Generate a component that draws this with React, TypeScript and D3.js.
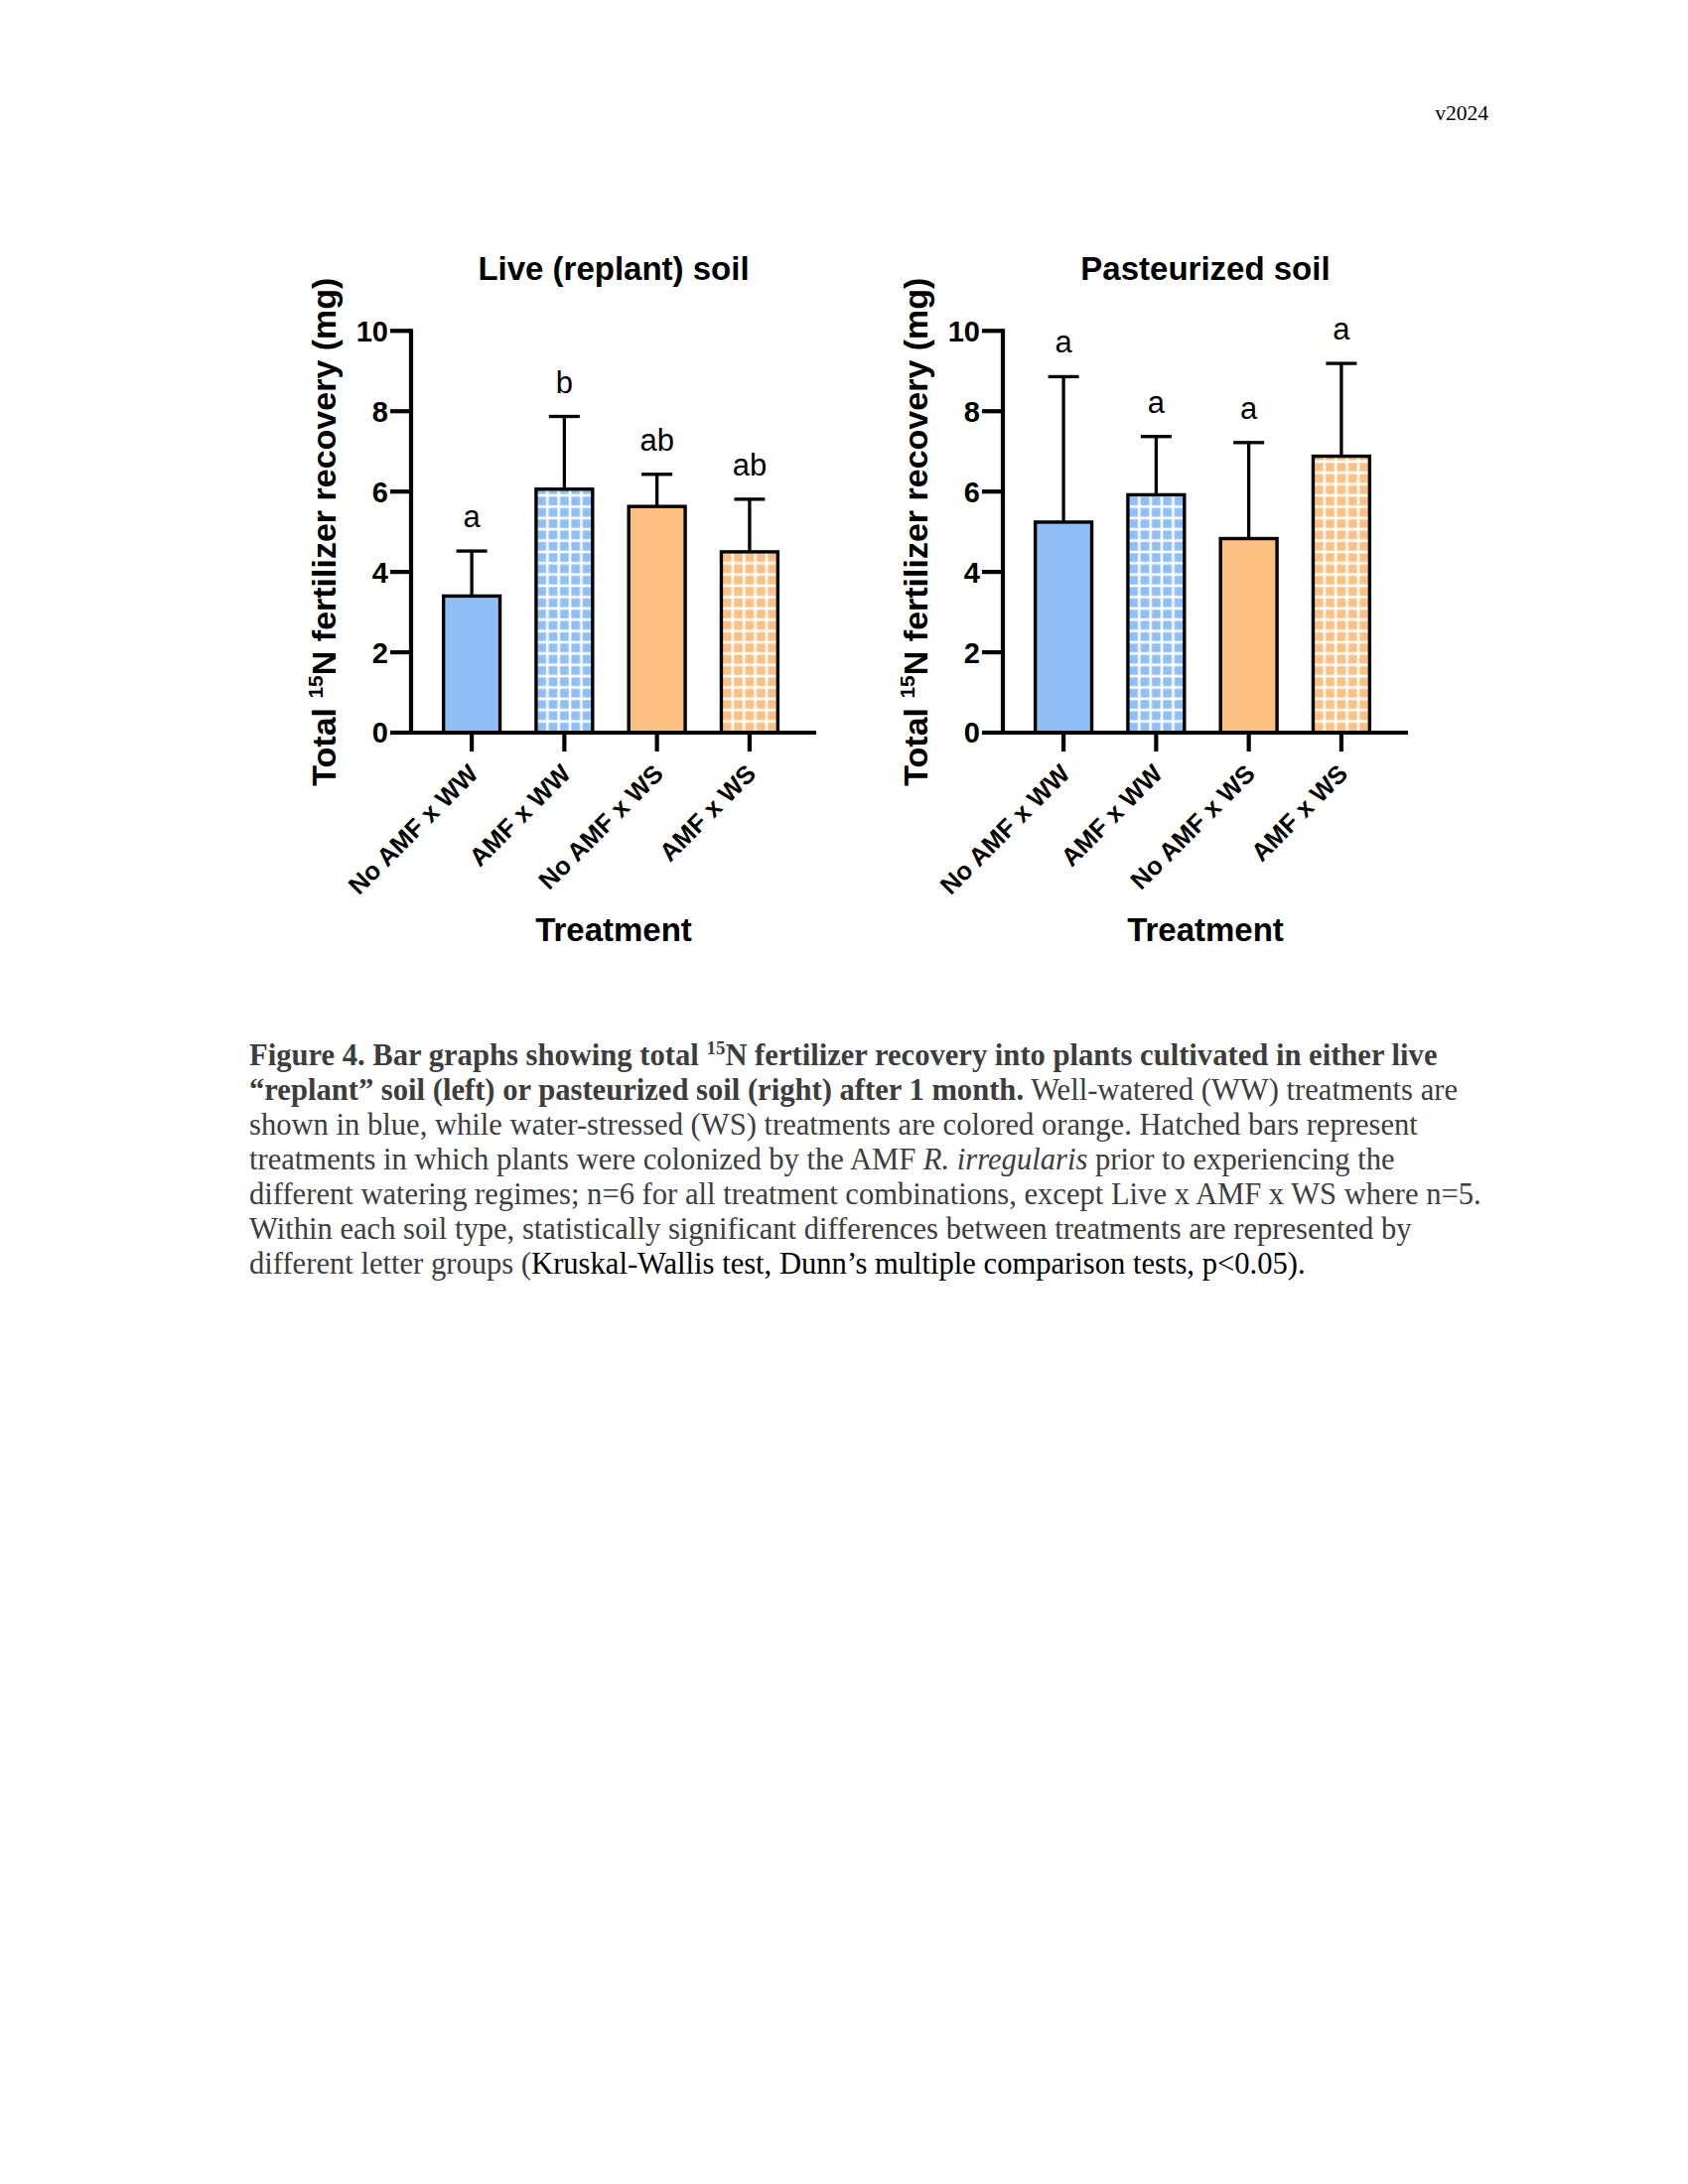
import React from "react";
import * as d3 from "d3";

// ---------- data ----------
const categories = ["No AMF x WW", "AMF x WW", "No AMF x WS", "AMF x WS"];
const hatched = [false, true, false, true];
const watering = ["WW", "WW", "WS", "WS"];
const liveMeans = [3.4, 6.06, 5.63, 4.5];
const liveErrors = [1.12, 1.81, 0.8, 1.31];
const liveLetters = ["a", "b", "ab", "ab"];
const pastMeans = [5.24, 5.92, 4.83, 6.88];
const pastErrors = [3.62, 1.45, 2.39, 2.31];
const pastLetters = ["a", "a", "a", "a"];
const yTicks = [0, 2, 4, 6, 8, 10];
const panelTitles = ["Live (replant) soil", "Pasteurized soil"];
const xAxisTitle = "Treatment";
const versionLabel = "v2024";

type Seg = { t: string; b?: boolean; i?: boolean; k?: boolean; sup?: boolean };
const captionLines: Seg[][] = [
  [
    { t: "Figure 4. Bar graphs showing total ", b: true },
    { t: "15", b: true, sup: true },
    { t: "N fertilizer recovery into plants cultivated in either live", b: true },
  ],
  [
    { t: "\u201Creplant\u201D soil (left) or pasteurized soil (right) after 1 month.", b: true },
    { t: " Well-watered (WW) treatments are" },
  ],
  [{ t: "shown in blue, while water-stressed (WS) treatments are colored orange. Hatched bars represent" }],
  [
    { t: "treatments in which plants were colonized by the AMF " },
    { t: "R. irregularis", i: true },
    { t: " prior to experiencing the" },
  ],
  [{ t: "different watering regimes; n=6 for all treatment combinations, except Live x AMF x WS where n=5." }],
  [{ t: "Within each soil type, statistically significant differences between treatments are represented by" }],
  [
    { t: "different letter groups (" },
    { t: "Kruskal-Wallis test, Dunn\u2019s multiple comparison tests, p<0.05).", k: true },
  ],
];

// ---------- layout ----------
const W = 1700;
const H = 2200;
const SANS = "'Liberation Sans', Arial, Helvetica, sans-serif";
const SERIF = "'Liberation Serif', 'Times New Roman', Times, serif";
const colorFor: Record<string, string> = { WW: "#90BEF7", WS: "#FCC083" };
const PANEL_X = [414, 1010];
const Y0 = 738;
const Y10 = 333.3;
const AXIS_LEN = 408;
const BAND_LEN = 402;

function Panel({ idx, means, errors, letters }: { idx: number; means: number[]; errors: number[]; letters: string[] }) {
  const x0 = PANEL_X[idx];
  const y = d3.scaleLinear().domain([0, 10]).range([Y0, Y10]);
  const x = d3.scaleBand<string>().domain(categories).range([x0, x0 + BAND_LEN]).paddingInner(0.39).paddingOuter(0.35);
  const bw = x.bandwidth();
  const cell = bw / 5;
  const lw = 2.6;
  const cx = (c: string) => (x(c) as number) + bw / 2;
  const midX = x0 + AXIS_LEN / 2;
  return (
    <g>
      <defs>
        {categories.map((c, i) =>
          hatched[i] ? (
            <pattern
              key={c}
              id={`hatch-${idx}-${i}`}
              patternUnits="userSpaceOnUse"
              x={x(c) as number}
              y={Y0}
              width={cell}
              height={cell}
            >
              <rect x={0} y={0} width={cell} height={cell} fill="#ffffff" />
              <rect x={lw / 2} y={lw / 2} width={cell - lw} height={cell - lw} fill={colorFor[watering[i]]} />
            </pattern>
          ) : null
        )}
      </defs>
      {/* title */}
      <text x={midX} y={282} textAnchor="middle" fontFamily={SANS} fontWeight="bold" fontSize={33}>
        {panelTitles[idx]}
      </text>
      {/* bars */}
      {categories.map((c, i) => (
        <rect
          key={c}
          x={x(c) as number}
          y={y(means[i])}
          width={bw}
          height={y(0) - y(means[i])}
          fill={hatched[i] ? `url(#hatch-${idx}-${i})` : colorFor[watering[i]]}
          stroke="#000"
          strokeWidth={3.4}
        />
      ))}
      {/* error bars */}
      {categories.map((c, i) => (
        <g key={c} stroke="#000" strokeWidth={3.3}>
          <line x1={cx(c)} x2={cx(c)} y1={y(means[i])} y2={y(means[i] + errors[i])} />
          <line x1={cx(c) - 15.5} x2={cx(c) + 15.5} y1={y(means[i] + errors[i])} y2={y(means[i] + errors[i])} />
        </g>
      ))}
      {/* letters */}
      {categories.map((c, i) => (
        <text key={c} x={cx(c)} y={y(means[i] + errors[i]) - 24} textAnchor="middle" fontFamily={SANS} fontSize={31}>
          {letters[i]}
        </text>
      ))}
      {/* y axis */}
      <line x1={x0} x2={x0} y1={Y0 + 2} y2={y(10) - 2} stroke="#000" strokeWidth={4.2} />
      {yTicks.map((t) => (
        <g key={t}>
          <line x1={x0 - 21} x2={x0} y1={y(t)} y2={y(t)} stroke="#000" strokeWidth={4.2} />
          <text x={x0 - 23} y={y(t)} dy="0.36em" textAnchor="end" fontFamily={SANS} fontWeight="bold" fontSize={29}>
            {t}
          </text>
        </g>
      ))}
      {/* x axis */}
      <line x1={x0 - 21} x2={x0 + AXIS_LEN} y1={Y0} y2={Y0} stroke="#000" strokeWidth={4.2} />
      {categories.map((c) => (
        <g key={c}>
          <line x1={cx(c)} x2={cx(c)} y1={Y0} y2={Y0 + 19} stroke="#000" strokeWidth={4.2} />
          <text
            transform={`translate(${cx(c) + 8},${Y0 + 43}) rotate(-45)`}
            textAnchor="end"
            fontFamily={SANS}
            fontWeight="bold"
            fontSize={25.5}
          >
            {c}
          </text>
        </g>
      ))}
      <text x={midX} y={948} textAnchor="middle" fontFamily={SANS} fontWeight="bold" fontSize={33}>
        {xAxisTitle}
      </text>
      {/* y axis title */}
      <text
        transform={`translate(${x0 - 76},${(Y0 + Y10) / 2}) rotate(-90)`}
        textAnchor="middle"
        fontFamily={SANS}
        fontWeight="bold"
        fontSize={34}
      >
        {"Total "}
        <tspan fontSize={21} dy={-13}>
          15
        </tspan>
        <tspan dy={13}>{"N fertilizer recovery (mg)"}</tspan>
      </text>
    </g>
  );
}

export default function App() {
  return (
    <svg
      width={W}
      height={H}
      viewBox={`0 0 ${W} ${H}`}
      style={{ position: "absolute", left: 0, top: 0, background: "#fff" }}
    >
      <rect x={0} y={0} width={W} height={H} fill="#fff" />
      <text x={1499} y={121} textAnchor="end" fontFamily={SERIF} fontSize={21.5} fill="#000">
        {versionLabel}
      </text>
      <Panel idx={0} means={liveMeans} errors={liveErrors} letters={liveLetters} />
      <Panel idx={1} means={pastMeans} errors={pastErrors} letters={pastLetters} />
      {captionLines.map((line, li) => (
        <text key={li} x={251} y={1073 + li * 35} fontFamily={SERIF} fontSize={30.6} fill="#3d3d3d" xmlSpace="preserve">
          {line.map((s, si) => (
            <tspan
              key={si}
              fontWeight={s.b ? "bold" : "normal"}
              fontStyle={s.i ? "italic" : "normal"}
              fill={s.k ? "#000" : "#3d3d3d"}
              fontSize={s.sup ? 19 : 30.6}
              dy={s.sup ? -11 : si > 0 && line[si - 1].sup ? 11 : 0}
            >
              {s.t}
            </tspan>
          ))}
        </text>
      ))}
    </svg>
  );
}
